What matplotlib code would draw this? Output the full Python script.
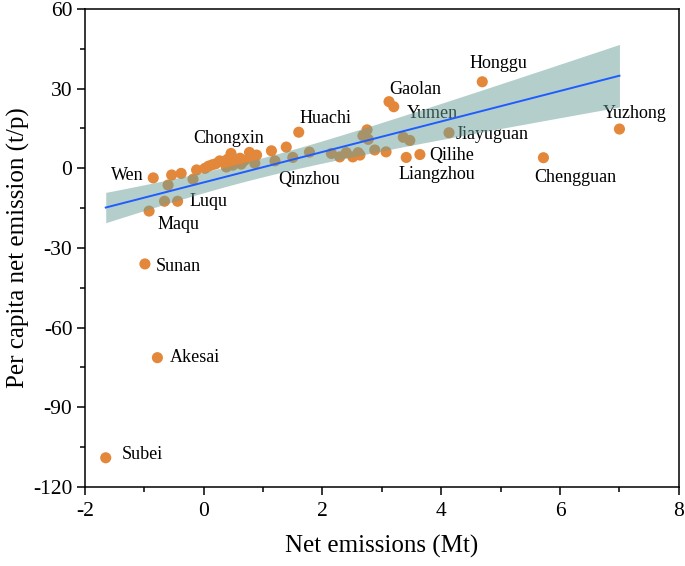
"""
Scatter of per capita net emission vs net emissions by county, with linear fit and CI band.
"""
import matplotlib
matplotlib.use("Agg")
import matplotlib.pyplot as plt
import numpy as np

# labelled counties (net emissions in Mt, per capita net emission in t/p)
names = ["Subei", "Akesai", "Sunan", "Maqu", "Luqu", "Wen", "Chongxin", "Huachi",
         "Qinzhou", "Gaolan", "Yumen", "Liangzhou", "Qilihe", "Jiayuguan",
         "Honggu", "Chengguan", "Yuzhong"]
named_x = [-1.65, -0.78, -0.99, -0.92, -0.44, -0.85, 0.46, 1.60,
           1.50, 3.12, 3.36, 3.41, 3.64, 4.13, 4.69, 5.72, 7.00]
named_y = [-109.0, -71.3, -36.0, -16.1, -12.4, -3.6, 5.6, 13.6,
           4.1, 25.1, 11.7, 4.1, 5.2, 13.4, 32.6, 4.0, 14.8]

# the other (unlabelled) counties
other_x = [-0.66, -0.60, -0.18, -0.54, -0.38, -0.12, 0.02, 0.08, 0.14, 0.20,
           0.27, 0.33, 0.40, 0.55, 0.61, 0.68, 0.77, 0.83, 0.89, 0.38,
           0.49, 0.63, 0.86, 1.14, 1.39, 1.20, 1.78, 2.15, 2.29, 2.40,
           2.51, 2.60, 2.63, 2.68, 2.75, 2.77, 2.88, 3.07, 3.20, 3.47]
other_y = [-12.4, -6.3, -4.1, -2.5, -1.9, -0.6, 0.0, 0.8, 1.3, 1.7,
           2.8, 2.4, 3.4, 3.0, 3.8, 2.9, 6.0, 4.0, 5.0, 0.5,
           1.2, 1.6, 1.9, 6.6, 8.0, 2.8, 6.1, 5.6, 4.3, 5.9,
           4.3, 5.9, 5.0, 12.3, 14.5, 10.9, 6.9, 6.2, 23.2, 10.5]

# fitted line and confidence band
fit_slope = 5.74
fit_intercept = -5.3
ci_center = 0.8      # x where the band is narrowest
ci_min_half = 3.6    # half width there
ci_spread = 1.81     # growth of half width away from the centre

# label offsets in points relative to each named point
label_offsets = {
    "Subei": (26, 2), "Akesai": (27, 0), "Sunan": (24, -2), "Maqu": (21, -10),
    "Luqu": (22, 0), "Wen": (-19, 2), "Chongxin": (-2, 11), "Huachi": (19, 10),
    "Qinzhou": (12, -16), "Gaolan": (19, 9), "Yumen": (21, 17),
    "Liangzhou": (22, -12), "Qilihe": (23, -1), "Jiayuguan": (31, -1),
    "Honggu": (12, 13), "Chengguan": (23, -14), "Yuzhong": (11, 11),
}

plt.rcParams["font.family"] = ["Liberation Serif", "DejaVu Serif"]
plt.rcParams["axes.unicode_minus"] = False

orange = "#E3873A"
band_color = "#6a9f98"

fig = plt.figure(figsize=(6.85, 5.66), dpi=100)
ax = fig.add_axes([0.124, 0.1396, 0.867, 0.8445])

all_x = np.array(named_x + other_x)
ax.scatter(other_x, other_y, s=64, color=orange, edgecolors="none", zorder=2)
ax.scatter(named_x, named_y, s=64, color=orange, edgecolors="none", zorder=2)

for name, x, y in zip(names, named_x, named_y):
    ax.annotate(name, (x, y), xytext=label_offsets[name], textcoords="offset points",
                ha="center", va="center", fontsize=13, zorder=3)

xs = np.linspace(all_x.min(), all_x.max(), 200)
fit = fit_intercept + fit_slope * xs
half = np.sqrt(ci_min_half ** 2 + (ci_spread * (xs - ci_center)) ** 2)
ax.fill_between(xs, fit - half, fit + half, color=band_color, alpha=0.5,
                linewidth=0, zorder=4)
ax.plot(xs, fit, color="#1f5cff", linewidth=1.4, zorder=5)

ax.set_xlim(-2, 8)
ax.set_ylim(-120, 60)
ax.set_xticks(np.arange(-2, 9, 2))
ax.set_xticks(np.arange(-1, 8, 2), minor=True)
ax.set_yticks(np.arange(-120, 61, 30))
ax.set_yticks(np.arange(-105, 60, 30), minor=True)
ax.tick_params(which="major", length=6, width=1.1, labelsize=15.5, pad=3)
ax.tick_params(which="minor", length=3.5, width=1.1)
ax.tick_params(axis="x", which="major", pad=5)
for sp in ax.spines.values():
    sp.set_linewidth(1.1)

ax.set_xlabel("Net emissions (Mt)", fontsize=18, labelpad=10)
ax.set_ylabel("Per capita net emission (t/p)", fontsize=18, labelpad=2)

fig.savefig("out.png", dpi=100)
